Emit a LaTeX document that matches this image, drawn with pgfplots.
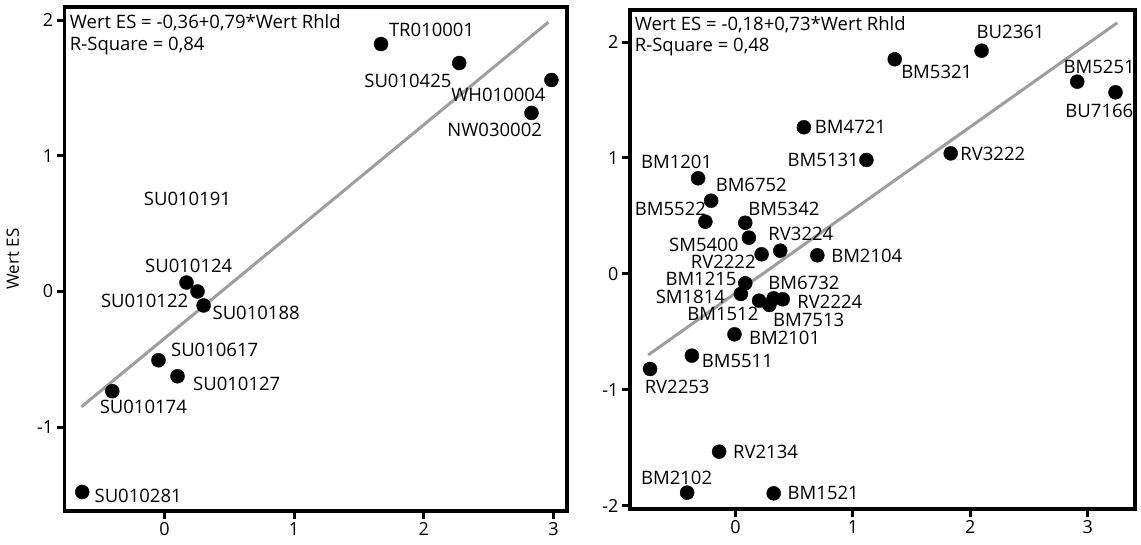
\documentclass[border=0pt]{standalone}
\usepackage{pgfplots}
\pgfplotsset{compat=1.18}
\usepackage{fontspec}
\setmainfont{Open Sans}
\newcommand{\lbl}{\fontsize{18.5}{21}\selectfont}
\tikzset{lab/.style={font=\lbl, anchor=west, inner sep=0pt}}
\pgfplotsset{
  myax/.style={
    scale only axis,
    axis line style={line width=3.4pt},
    tick align=outside,
    xtick pos=left, ytick pos=left,
    major tick length=8pt,
    tick style={line width=3pt, black},
    tick label style={font=\fontsize{18}{20}\selectfont},
    clip=false,
  },
}
\begin{document}
\begin{tikzpicture}
\path[use as bounding box] (-64.7pt,-34pt) rectangle (1076.3pt,511pt);
% ---------- left ----------
\begin{axis}[myax,
  at={(0pt,0pt)}, anchor=south west,
  width=502.3pt, height=504pt,
  xmin=-0.769, xmax=3.104, ymin=-1.618, ymax=2.097,
  xtick={0,1,2,3}, xticklabels={0,1,2,3},
  ytick={-1,0,1,2}, yticklabels={-1,0,1,2},
  ylabel={Wert ES}, ylabel style={font=\fontsize{17}{19}\selectfont, at={(axis description cs:0,0.5)}, anchor=south, yshift=42pt},
]
\addplot[color=black!38, line width=3pt] coordinates {(-0.64,-0.85) (2.96,1.985)};
\addplot[only marks, mark=*, mark size=7pt, black] coordinates {
(1.670,1.824) (2.273,1.684) (2.984,1.559) (2.830,1.316)
(0.170,0.066) (0.255,0.0) (0.302,-0.103)
(-0.046,-0.507) (0.101,-0.625) (-0.402,-0.735) (-0.634,-1.478)};
\node[lab] at (axis cs:-0.73,1.98) {Wert ES = -0,36+0,79*Wert Rhld};
\node[lab] at (axis cs:-0.73,1.81) {R-Square = 0,84};
\node[lab] at (axis cs:1.73,1.93) {TR010001};
\node[lab] at (axis cs:1.54,1.55) {SU010425};
\node[lab] at (axis cs:2.21,1.45) {WH010004};
\node[lab] at (axis cs:2.18,1.19) {NW030002};
\node[lab] at (axis cs:-0.16,0.68) {SU010191};
\node[lab] at (axis cs:-0.15,0.19) {SU010124};
\node[lab] at (axis cs:-0.49,-0.07) {SU010122};
\node[lab] at (axis cs:0.37,-0.16) {SU010188};
\node[lab] at (axis cs:0.05,-0.43) {SU010617};
\node[lab] at (axis cs:0.22,-0.68) {SU010127};
\node[lab] at (axis cs:-0.50,-0.85) {SU010174};
\node[lab] at (axis cs:-0.54,-1.51) {SU010281};
\end{axis}
% ---------- right ----------
\begin{axis}[myax,
  at={(565.3pt,2pt)}, anchor=south west,
  width=505pt, height=499pt,
  xmin=-0.899, xmax=3.403, ymin=-2.026, ymax=2.276,
  xtick={0,1,2,3}, xticklabels={0,1,2,3},
  ytick={-2,-1,0,1,2}, yticklabels={-2,-1,0,1,2},
]
\addplot[color=black!38, line width=3pt] coordinates {(-0.744,-0.698) (3.252,2.166)};
\addplot[only marks, mark=*, mark size=7pt, black] coordinates {
(2.096,1.925) (1.356,1.851) (2.911,1.658) (3.237,1.566)
(0.582,1.265) (1.115,0.983) (1.833,1.040)
(-0.319,0.825) (-0.208,0.632) (-0.257,0.451) (0.083,0.442)
(0.114,0.313) (0.222,0.170) (0.381,0.201) (0.697,0.161)
(0.083,-0.080) (0.046,-0.172) (0.201,-0.230) (0.325,-0.210)
(0.288,-0.267) (0.402,-0.218)
(-0.009,-0.520) (-0.372,-0.704) (-0.728,-0.819)
(-0.140,-1.532) (-0.412,-1.885) (0.325,-1.891)};
\node[lab] at (axis cs:-0.859,2.147) {Wert ES = -0,18+0,73*Wert Rhld};
\node[lab] at (axis cs:-0.859,1.960) {R-Square = 0,48};
\node[lab] at (axis cs:2.053,2.083) {BU2361};
\node[lab] at (axis cs:1.410,1.739) {BM5321};
\node[lab] at (axis cs:2.794,1.787) {BM5251};
\node[lab] at (axis cs:2.809,1.405) {BU7166};
\node[lab] at (axis cs:0.675,1.265) {BM4721};
\node[lab] at (axis cs:0.443,0.983) {BM5131};
\node[lab] at (axis cs:1.914,1.032) {RV3222};
\node[lab] at (axis cs:-0.806,0.963) {BM1201};
\node[lab] at (axis cs:-0.170,0.767) {BM6752};
\node[lab] at (axis cs:-0.859,0.560) {BM5522};
\node[lab] at (axis cs:0.108,0.560) {BM5342};
\node[lab] at (axis cs:-0.567,0.250) {SM5400};
\node[lab] at (axis cs:0.279,0.342) {RV3224};
\node[lab] at (axis cs:-0.382,0.106) {RV2222};
\node[lab] at (axis cs:0.814,0.155) {BM2104};
\node[lab] at (axis cs:-0.598,-0.040) {BM1215};
\node[lab] at (axis cs:-0.681,-0.195) {SM1814};
\node[lab] at (axis cs:0.279,-0.075) {BM6732};
\node[lab] at (axis cs:0.526,-0.239) {RV2224};
\node[lab] at (axis cs:-0.412,-0.345) {BM1512};
\node[lab] at (axis cs:0.319,-0.397) {BM7513};
\node[lab] at (axis cs:0.114,-0.549) {BM2101};
\node[lab] at (axis cs:-0.289,-0.750) {BM5511};
\node[lab] at (axis cs:-0.775,-0.977) {RV2253};
\node[lab] at (axis cs:-0.022,-1.532) {RV2134};
\node[lab] at (axis cs:-0.806,-1.761) {BM2102};
\node[lab] at (axis cs:0.443,-1.885) {BM1521};
\end{axis}
\end{tikzpicture}
\end{document}
